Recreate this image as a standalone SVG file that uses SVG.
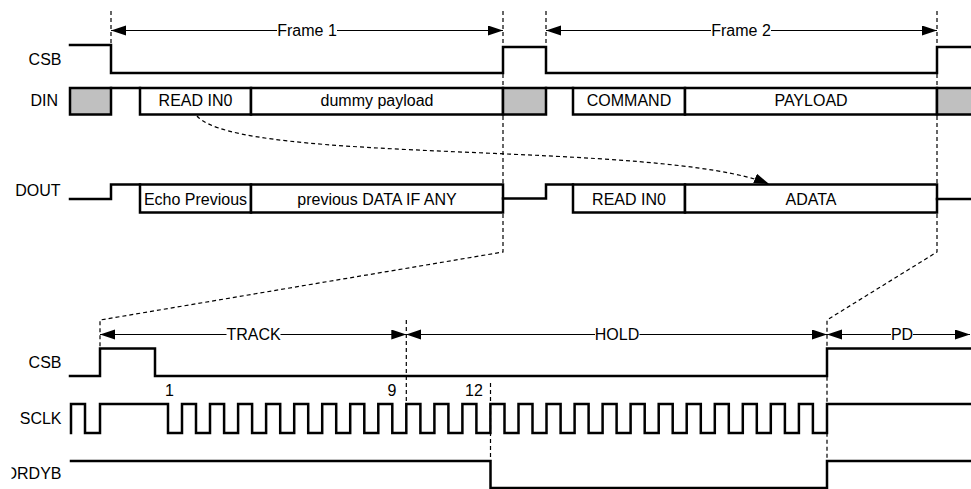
<svg xmlns="http://www.w3.org/2000/svg" width="971" height="489" viewBox="0 0 971 489">
<style>
.sig{fill:none;stroke:#000;stroke-width:2.5;stroke-linejoin:miter;stroke-linecap:square}
.box{fill:#fff;stroke:#000;stroke-width:2.5}
.gray{fill:#c0c0c0;stroke:#000;stroke-width:2.5}
.guide{fill:none;stroke:#000;stroke-width:1.2;stroke-dasharray:4 3}
.dim{fill:none;stroke:#000;stroke-width:1.2}
text{font-family:"Liberation Sans",Arial,sans-serif;font-size:16px;fill:#000}
.c{text-anchor:middle}
.r{text-anchor:end}
</style>
<defs>
<marker id="ah" markerUnits="userSpaceOnUse" markerWidth="16" markerHeight="11" refX="15" refY="5" orient="auto-start-reverse" viewBox="0 0 16 11">
<path d="M0,0 L15,5 L0,10 z" fill="#000" stroke="none"/>
</marker>
<clipPath id="clipL"><rect x="11.5" y="440" width="60" height="49"/></clipPath>
</defs>
<rect x="0" y="0" width="971" height="489" fill="#fff"/>

<g id="labels">
<text class="r" x="61.5" y="65">CSB</text>
<text class="r" x="58" y="106">DIN</text>
<text class="r" x="60.5" y="196">DOUT</text>
<text class="r" x="61.5" y="368">CSB</text>
<text class="r" x="61.5" y="424">SCLK</text>
<text class="r" x="61.5" y="479" clip-path="url(#clipL)">DRDYB</text>
</g>

<g id="csb-top">
<path class="sig" d="M70,45 H111 V73 H503 V47 H546 V73 H937 V47 H975"/>
</g>

<g id="din">
<rect class="gray" x="70" y="88" width="41" height="26.5"/>
<path class="sig" d="M111,88 H140"/>
<rect class="box" x="140" y="88" width="111" height="26.5"/>
<text class="c" x="195.5" y="106">READ IN0</text>
<rect class="box" x="251" y="88" width="252" height="26.5"/>
<text class="c" x="377" y="106">dummy payload</text>
<rect class="gray" x="503" y="88" width="43" height="26.5"/>
<path class="sig" d="M546,88 H573"/>
<rect class="box" x="573" y="88" width="112" height="26.5"/>
<text class="c" x="629" y="106">COMMAND</text>
<rect class="box" x="685" y="88" width="252" height="26.5"/>
<text class="c" x="811" y="106">PAYLOAD</text>
<rect class="gray" x="937" y="88" width="45" height="26.5"/>
</g>

<g id="dout">
<path class="sig" d="M70,199 H111 V184.5 H140"/>
<rect class="box" x="140" y="184.5" width="111" height="28"/>
<text class="c" x="195.5" y="205">Echo Previous</text>
<rect class="box" x="251" y="184.5" width="252" height="28"/>
<text class="c" x="377" y="205">previous DATA IF ANY</text>
<path class="sig" d="M503,198.5 H546 V184.5 H573"/>
<rect class="box" x="573" y="184.5" width="112" height="28"/>
<text class="c" x="629" y="205">READ IN0</text>
<rect class="box" x="685" y="184.5" width="252" height="28"/>
<text class="c" x="811" y="205">ADATA</text>
<path class="sig" d="M937,199 H975"/>
</g>

<g id="csb-bottom">
<path class="sig" d="M70,376 H100 V348.5 H155 V376 H827 V348.5 H975"/>
</g>

<g id="sclk">
<path class="sig" d="M71,433 V404 H85 V433 H100 V404 H168 V433 H182 V404 H196 V433 H210 V404 H224.1 V433 H238.1 V404 H252.1 V433 H266.1 V404 H280.2 V433 H294.2 V404 H308.2 V433 H322.2 V404 H336.2 V433 H350.2 V404 H364.3 V433 H378.3 V404 H392.3 V433 H406.3 V404 H420.4 V433 H434.4 V404 H448.4 V433 H462.4 V404 H476.4 V433 H490.4 V404 H504.5 V433 H518.5 V404 H532.5 V433 H546.5 V404 H560.6 V433 H574.6 V404 H588.6 V433 H602.6 V404 H616.6 V433 H630.6 V404 H644.7 V433 H658.7 V404 H672.7 V433 H686.7 V404 H700.8 V433 H714.8 V404 H728.8 V433 H742.8 V404 H756.8 V433 H770.8 V404 H784.9 V433 H798.9 V404 H812.9 V433 H827 V404 H975"/>
<text x="165" y="396">1</text>
<text x="387.5" y="396">9</text>
<text x="465" y="396">12</text>
</g>

<g id="drdyb">
<path class="sig" d="M71,461 H490.5 V488 H827 V461 H975"/>
</g>

<g id="connectors">
<path class="guide" d="M111,11 V45"/>
<path class="guide" d="M546,11 V47"/>
<path class="guide" d="M503,11 V252 L100,320 V348"/>
<path class="guide" d="M937,11 V252 L827,320 V461"/>
<path class="guide" d="M406.3,320 V404"/>
<path class="guide" d="M490.5,383 V461"/>
<path class="guide" d="M197,116 C240,165 660,140 769,184" marker-end="url(#ah)"/>

<path class="dim" d="M277,30.5 H111" marker-end="url(#ah)"/>
<path class="dim" d="M337,30.5 H503" marker-end="url(#ah)"/>
<text class="c" x="307" y="35.5">Frame 1</text>
<path class="dim" d="M711,30.5 H546" marker-end="url(#ah)"/>
<path class="dim" d="M771,30.5 H937" marker-end="url(#ah)"/>
<text class="c" x="741" y="35.5">Frame 2</text>

<path class="dim" d="M226.5,334.5 H100" marker-end="url(#ah)"/>
<path class="dim" d="M280.5,334.5 H406.3" marker-end="url(#ah)"/>
<text class="c" x="253.5" y="340">TRACK</text>
<path class="dim" d="M595,334.5 H406.3" marker-end="url(#ah)"/>
<path class="dim" d="M639.5,334.5 H827" marker-end="url(#ah)"/>
<text class="c" x="617" y="340">HOLD</text>
<path class="dim" d="M891,334.5 H827" marker-end="url(#ah)"/>
<path class="dim" d="M913,334.5 H970" marker-end="url(#ah)"/>
<text class="c" x="902" y="340">PD</text>
</g>
</svg>
